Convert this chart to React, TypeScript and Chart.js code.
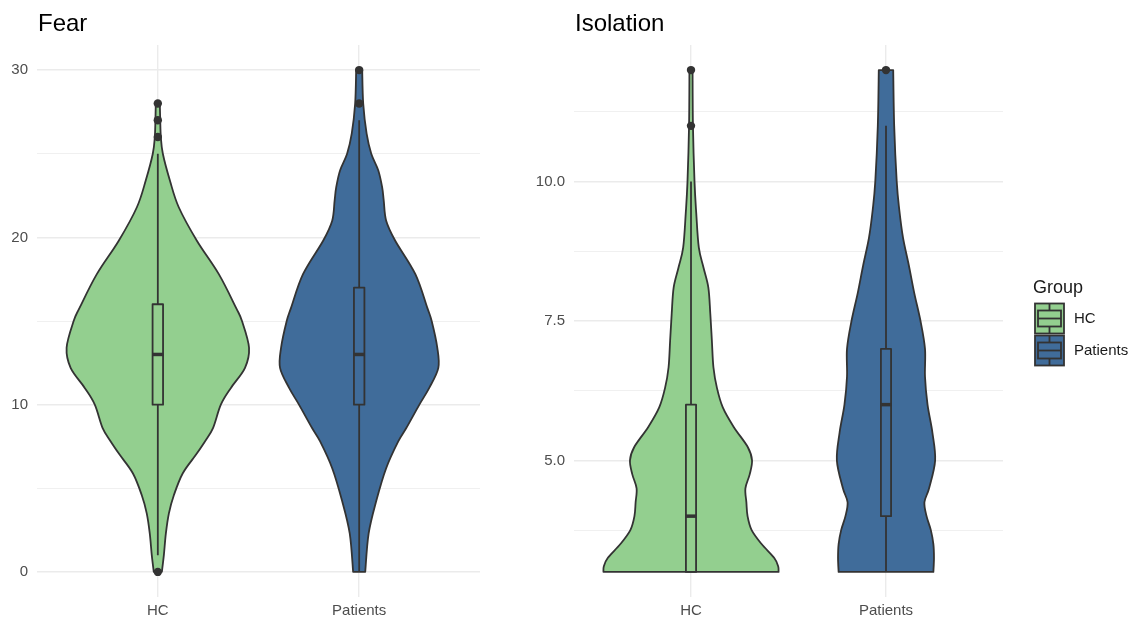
import React, { useEffect, useRef } from "react";
import { Chart, registerables } from "chart.js";

Chart.register(...registerables);

// ---------- data ----------
const CATEGORIES = ["HC", "Patients"];
const GROUP_COLORS = ["#93CF8F", "#406C9A"];
const OUTLINE = "#333333";
const FONT = "'Liberation Sans', Arial, Helvetica, sans-serif";

// Fear – violin outline: y values and half-widths (in category-slot units)
const FEAR_HC_Y = [0, 1, 2.3, 3.5, 4.6, 5.9, 7, 7.8, 8.6, 10, 11, 12.2, 13.4, 15, 15.8, 17.8, 19.8, 21.8, 23.4, 25, 26, 27, 28];
const FEAR_HC_W = [0.02, 0.03, 0.04, 0.055, 0.08, 0.124, 0.189, 0.234, 0.274, 0.313, 0.363, 0.433, 0.453, 0.418, 0.388, 0.303, 0.194, 0.104, 0.06, 0.025, 0.015, 0.012, 0.01];
const FEAR_PAT_Y = [0, 2.3, 4.25, 6.2, 7.8, 8.6, 10, 11, 12.2, 13.4, 15, 15.8, 17.8, 19.8, 21, 22.2, 23, 24, 25, 26.2, 28, 30];
const FEAR_PAT_W = [0.03, 0.047, 0.085, 0.134, 0.194, 0.234, 0.299, 0.348, 0.393, 0.388, 0.36, 0.338, 0.279, 0.179, 0.134, 0.122, 0.114, 0.095, 0.06, 0.037, 0.02, 0.015];
// box stats: [lower whisker, Q1, median, Q3, upper whisker]
const FEAR_HC_BOX = [1, 10, 13, 16, 25];
const FEAR_PAT_BOX = [0, 10, 13, 17, 27];
const FEAR_HC_OUTLIERS = [0, 26, 27, 28];
const FEAR_PAT_OUTLIERS = [28, 30];
const FEAR_Y_TICKS = [0, 5, 10, 15, 20, 25, 30];
const FEAR_Y_LABELS = ["0", "", "10", "", "20", "", "30"];

// Isolation
const ISO_HC_Y = [3, 3.1, 3.25, 3.5, 3.75, 4, 4.25, 4.5, 4.75, 5, 5.24, 5.6, 5.95, 6.3, 6.67, 7.15, 7.63, 8.1, 8.46, 8.82, 9.43, 10, 11, 12];
const ISO_HC_W = [0.449, 0.447, 0.427, 0.362, 0.311, 0.29, 0.284, 0.279, 0.301, 0.313, 0.291, 0.219, 0.163, 0.133, 0.115, 0.107, 0.099, 0.089, 0.064, 0.04, 0.027, 0.018, 0.01, 0.008];
const ISO_PAT_Y = [3, 3.25, 3.5, 3.75, 4, 4.25, 4.5, 5, 5.5, 6, 6.5, 7, 7.5, 8, 8.5, 9, 9.5, 10, 11, 12];
const ISO_PAT_W = [0.243, 0.246, 0.243, 0.23, 0.208, 0.197, 0.221, 0.252, 0.238, 0.213, 0.2, 0.2, 0.177, 0.145, 0.117, 0.087, 0.068, 0.055, 0.042, 0.037];
const ISO_HC_BOX = [3, 3, 4, 6, 10];
const ISO_PAT_BOX = [3, 4, 6, 7, 11];
const ISO_HC_OUTLIERS = [11, 12];
const ISO_PAT_OUTLIERS = [12];
const ISO_Y_TICKS = [3.75, 5, 6.25, 7.5, 8.75, 10, 11.25];
const ISO_Y_LABELS = ["", "5.0", "", "7.5", "", "10.0", ""];

const BOX_WIDTH = 0.052; // full width in category units

type Violin = { ys: number[]; ws: number[]; box: number[]; outliers: number[] };

type Panel = {
  title: string;
  yMin: number;
  yMax: number;
  yTicks: number[];
  yLabels: string[];
  violins: Violin[];
};

const PANELS: Panel[] = [
  {
    title: "Fear",
    yMin: -1.5,
    yMax: 31.5,
    yTicks: FEAR_Y_TICKS,
    yLabels: FEAR_Y_LABELS,
    violins: [
      { ys: FEAR_HC_Y, ws: FEAR_HC_W, box: FEAR_HC_BOX, outliers: FEAR_HC_OUTLIERS },
      { ys: FEAR_PAT_Y, ws: FEAR_PAT_W, box: FEAR_PAT_BOX, outliers: FEAR_PAT_OUTLIERS },
    ],
  },
  {
    title: "Isolation",
    yMin: 2.55,
    yMax: 12.45,
    yTicks: ISO_Y_TICKS,
    yLabels: ISO_Y_LABELS,
    violins: [
      { ys: ISO_HC_Y, ws: ISO_HC_W, box: ISO_HC_BOX, outliers: ISO_HC_OUTLIERS },
      { ys: ISO_PAT_Y, ws: ISO_PAT_W, box: ISO_PAT_BOX, outliers: ISO_PAT_OUTLIERS },
    ],
  },
];

// ---------- drawing helpers ----------
type Pt = [number, number];
function smoothThrough(ctx: CanvasRenderingContext2D, pts: Pt[], move: boolean) {
  const n = pts.length;
  if (move) ctx.moveTo(pts[0][0], pts[0][1]);
  else ctx.lineTo(pts[0][0], pts[0][1]);
  for (let i = 0; i < n - 1; i++) {
    const p0 = pts[Math.max(i - 1, 0)];
    const p1 = pts[i];
    const p2 = pts[i + 1];
    const p3 = pts[Math.min(i + 2, n - 1)];
    const c1x = p1[0] + (p2[0] - p0[0]) / 6;
    const c1y = p1[1] + (p2[1] - p0[1]) / 6;
    const c2x = p2[0] - (p3[0] - p1[0]) / 6;
    const c2y = p2[1] - (p3[1] - p1[1]) / 6;
    ctx.bezierCurveTo(c1x, c1y, c2x, c2y, p2[0], p2[1]);
  }
}

function makeViolinPlugin(panel: Panel, withLegend: boolean) {
  return {
    id: "violins",
    beforeDatasetsDraw(chart: any) {
      const ctx: CanvasRenderingContext2D = chart.ctx;
      const xs = chart.scales.x;
      const ys = chart.scales.y;
      ctx.save();
      panel.violins.forEach((v, gi) => {
        const color = GROUP_COLORS[gi];
        const right: Pt[] = v.ys.map((y, i) => [xs.getPixelForValue(gi + v.ws[i]), ys.getPixelForValue(y)]);
        const left: Pt[] = v.ys
          .map((y, i) => [xs.getPixelForValue(gi - v.ws[i]), ys.getPixelForValue(y)] as Pt)
          .reverse();
        ctx.beginPath();
        smoothThrough(ctx, right, true);
        smoothThrough(ctx, left, false);
        ctx.closePath();
        ctx.fillStyle = color;
        ctx.fill();
        ctx.lineWidth = 1.8;
        ctx.lineJoin = "round";
        ctx.strokeStyle = OUTLINE;
        ctx.stroke();

        // boxplot
        const [lo, q1, med, q3, hi] = v.box;
        const cx = xs.getPixelForValue(gi);
        const bx0 = xs.getPixelForValue(gi - BOX_WIDTH / 2);
        const bx1 = xs.getPixelForValue(gi + BOX_WIDTH / 2);
        const yLo = ys.getPixelForValue(lo);
        const yQ1 = ys.getPixelForValue(q1);
        const yMed = ys.getPixelForValue(med);
        const yQ3 = ys.getPixelForValue(q3);
        const yHi = ys.getPixelForValue(hi);
        ctx.strokeStyle = OUTLINE;
        ctx.lineWidth = 1.8;
        ctx.beginPath();
        ctx.moveTo(cx, yLo);
        ctx.lineTo(cx, yQ1);
        ctx.moveTo(cx, yQ3);
        ctx.lineTo(cx, yHi);
        ctx.stroke();
        ctx.fillStyle = color;
        ctx.fillRect(bx0, yQ3, bx1 - bx0, yQ1 - yQ3);
        ctx.strokeRect(bx0, yQ3, bx1 - bx0, yQ1 - yQ3);
        ctx.lineWidth = 3.5;
        ctx.beginPath();
        ctx.moveTo(bx0, yMed);
        ctx.lineTo(bx1, yMed);
        ctx.stroke();
      });
      ctx.restore();
    },
    afterDraw(chart: any) {
      const ctx: CanvasRenderingContext2D = chart.ctx;
      const area = chart.chartArea;
      ctx.save();
      ctx.fillStyle = "#000000";
      ctx.font = `24px ${FONT}`;
      ctx.textBaseline = "alphabetic";
      ctx.textAlign = "left";
      ctx.fillText(panel.title, area.left + 1, 31);

      if (withLegend) {
        const lx = area.right + 32;
        ctx.font = `18px ${FONT}`;
        ctx.fillStyle = "#1a1a1a";
        ctx.fillText("Group", area.right + 30, 293);
        CATEGORIES.forEach((name, i) => {
          const kx = lx;
          const ky = 303.5 + i * 32;
          const kw = 29;
          const kh = 30;
          ctx.fillStyle = GROUP_COLORS[i];
          ctx.fillRect(kx, ky, kw, kh);
          ctx.strokeStyle = OUTLINE;
          ctx.lineWidth = 1.8;
          ctx.strokeRect(kx, ky, kw, kh);
          // boxplot glyph
          const gx0 = kx + 3;
          const gx1 = kx + kw - 3;
          const gy0 = ky + 7;
          const gy1 = ky + kh - 7;
          const gcx = kx + kw / 2;
          ctx.beginPath();
          ctx.moveTo(gcx, ky);
          ctx.lineTo(gcx, gy0);
          ctx.moveTo(gcx, gy1);
          ctx.lineTo(gcx, ky + kh);
          ctx.stroke();
          ctx.strokeRect(gx0, gy0, gx1 - gx0, gy1 - gy0);
          ctx.beginPath();
          ctx.moveTo(gx0, (gy0 + gy1) / 2);
          ctx.lineTo(gx1, (gy0 + gy1) / 2);
          ctx.stroke();
          ctx.fillStyle = "#1a1a1a";
          ctx.font = `15px ${FONT}`;
          ctx.textBaseline = "middle";
          ctx.fillText(name, area.right + 71, ky + kh / 2);
          ctx.textBaseline = "alphabetic";
        });
      }
      ctx.restore();
    },
  };
}

function buildConfig(panel: Panel, yAxisWidth: number, rightPad: number, withLegend: boolean): any {
  const outlierData: { x: number; y: number }[] = [];
  panel.violins.forEach((v, gi) => v.outliers.forEach((o) => outlierData.push({ x: gi, y: o })));
  return {
    type: "scatter",
    data: {
      datasets: [
        {
          label: "outliers",
          data: outlierData,
          pointRadius: 4.2,
          pointHoverRadius: 4.2,
          backgroundColor: OUTLINE,
          borderWidth: 0,
        },
      ],
    },
    options: {
      responsive: false,
      animation: false,
      events: [],
      layout: { padding: { left: 0, right: rightPad, top: 45, bottom: 0 } },
      plugins: { legend: { display: false }, title: { display: false }, tooltip: { enabled: false } },
      scales: {
        x: {
          type: "linear",
          min: -0.6,
          max: 1.6,
          afterBuildTicks: (scale: any) => {
            scale.ticks = CATEGORIES.map((_, i) => ({ value: i }));
          },
          afterFit: (scale: any) => {
            scale.height = 24;
          },
          ticks: {
            callback: (v: number) => CATEGORIES[Math.round(v)] ?? "",
            color: "#4d4d4d",
            font: { family: FONT, size: 15 },
            padding: 5,
            maxRotation: 0,
            autoSkip: false,
          },
          grid: { color: "#ebebeb", lineWidth: 1.4, drawTicks: false },
          border: { display: false },
        },
        y: {
          type: "linear",
          min: panel.yMin,
          max: panel.yMax,
          afterBuildTicks: (scale: any) => {
            scale.ticks = panel.yTicks.map((v) => ({ value: v }));
          },
          afterFit: (scale: any) => {
            scale.width = yAxisWidth;
          },
          ticks: {
            callback: (v: number) => {
              const i = panel.yTicks.indexOf(v);
              return i >= 0 ? panel.yLabels[i] : "";
            },
            color: "#4d4d4d",
            font: { family: FONT, size: 15 },
            padding: 9,
            autoSkip: false,
          },
          grid: {
            color: (c: any) => {
              const i = panel.yTicks.indexOf(c.tick?.value);
              return i >= 0 && panel.yLabels[i] !== "" ? "#ebebeb" : "#f0f0f0";
            },
            lineWidth: (c: any) => {
              const i = panel.yTicks.indexOf(c.tick?.value);
              return i >= 0 && panel.yLabels[i] !== "" ? 1.4 : 1;
            },
            drawTicks: false,
          },
          border: { display: false },
        },
      },
    },
    plugins: [makeViolinPlugin(panel, withLegend)],
  };
}

function PanelChart({ panel, left, width, yAxisWidth, rightPad, withLegend }: any) {
  const ref = useRef<HTMLCanvasElement | null>(null);
  useEffect(() => {
    if (!ref.current) return;
    const chart = new Chart(ref.current, buildConfig(panel, yAxisWidth, rightPad, withLegend));
    return () => chart.destroy();
  }, [panel, yAxisWidth, rightPad, withLegend]);
  return (
    <canvas
      ref={ref}
      width={width}
      height={621}
      style={{ position: "absolute", left, top: 0, width, height: 621 }}
    />
  );
}

export default function App() {
  return (
    <div style={{ position: "fixed", left: 0, top: 0, width: 1133, height: 621, background: "#ffffff", overflow: "hidden" }}>
      <PanelChart panel={PANELS[0]} left={0} width={520} yAxisWidth={37} rightPad={40} withLegend={false} />
      <PanelChart panel={PANELS[1]} left={520} width={613} yAxisWidth={54} rightPad={130} withLegend={true} />
    </div>
  );
}
